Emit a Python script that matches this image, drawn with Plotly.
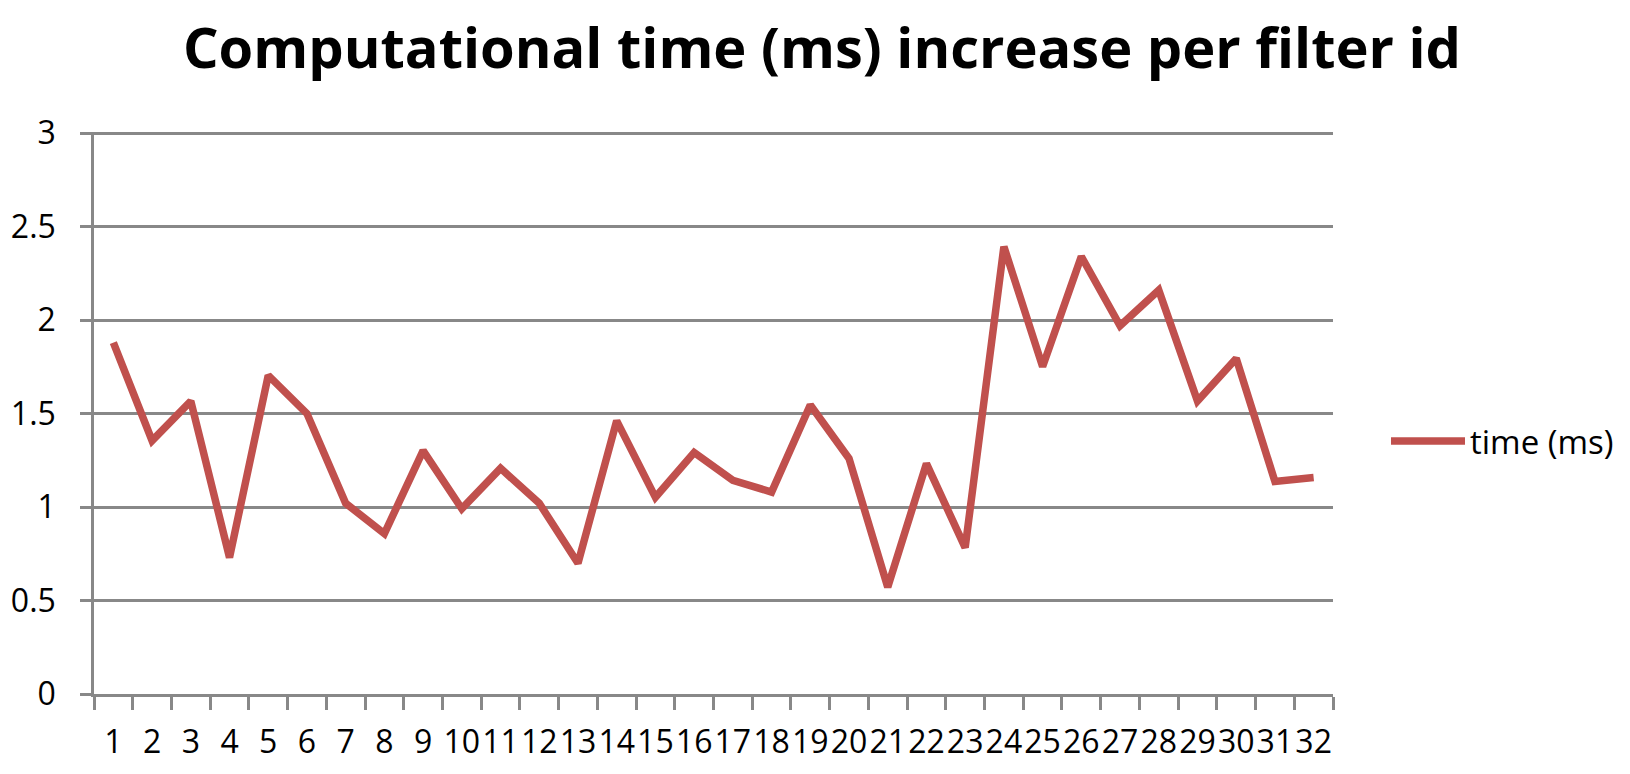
import plotly.graph_objects as go

filter_ids = [str(i) for i in range(1, 33)]
time_ms = [1.88, 1.355, 1.567, 0.73, 1.704, 1.50, 1.02, 0.858, 1.302, 0.991,
           1.207, 1.02, 0.699, 1.461, 1.052, 1.292, 1.143, 1.08, 1.546, 1.26,
           0.572, 1.232, 0.783, 2.393, 1.751, 2.34, 1.969, 2.16, 1.567, 1.795,
           1.137, 1.158]
y_ticks = [0, 0.5, 1, 1.5, 2, 2.5, 3]
y_tick_text = ["0", "0.5", "1", "1.5", "2", "2.5", "3"]

series_name = "time (ms)"
title_text = "Computational time (ms) increase per filter id"

RED = "#C0504D"
GRID = "#888888"
FONT = "Open Sans"

# the page body adds an 8px offset, so the figure is sized to fit the window
W, H = 1622, 766

fig = go.Figure()
fig.add_trace(go.Scatter(
    x=filter_ids, y=time_ms, mode="lines", name=series_name,
    line=dict(color=RED, width=7.5),
    showlegend=True,
))

fig.update_layout(
    width=W, height=H,
    margin=dict(l=86, r=297, t=124, b=80, pad=0),
    paper_bgcolor="white", plot_bgcolor="white",
    font=dict(family=FONT, color="black"),
    title=dict(text="<b>" + title_text + "</b>", font=dict(family=FONT, size=56, color="black"),
               xref="container", yref="container", x=814 / W, xanchor="center",
               y=1 - 40 / H, yanchor="middle"),
    legend=dict(xref="container", yref="container", x=1378 / W, xanchor="left",
                y=1 - 433 / H, yanchor="middle", font=dict(family=FONT, size=33, color="black"),
                itemwidth=74, bgcolor="rgba(0,0,0,0)", borderwidth=0),
    showlegend=True,
)

fig.update_xaxes(
    type="category", range=[-0.5, 31.5], tickson="boundaries",
    ticks="outside", ticklen=13, tickwidth=2.5, tickcolor=GRID,
    showline=True, linecolor=GRID, linewidth=2.5, showgrid=False, zeroline=False,
    tickangle=0, tickfont=dict(family=FONT, size=32, color="black"),
    ticklabelstandoff=18, automargin=False,
)
fig.update_yaxes(
    range=[0, 3.006], tickvals=y_ticks, ticktext=y_tick_text,
    ticks="outside", ticklen=11, tickwidth=2.5, tickcolor=GRID,
    showline=True, linecolor=GRID, linewidth=2.5,
    showgrid=True, gridcolor=GRID, gridwidth=2.5, zeroline=False,
    tickfont=dict(family=FONT, size=32, color="black"), ticklabelstandoff=18,
    automargin=False,
)

fig.write_html("out.html")
